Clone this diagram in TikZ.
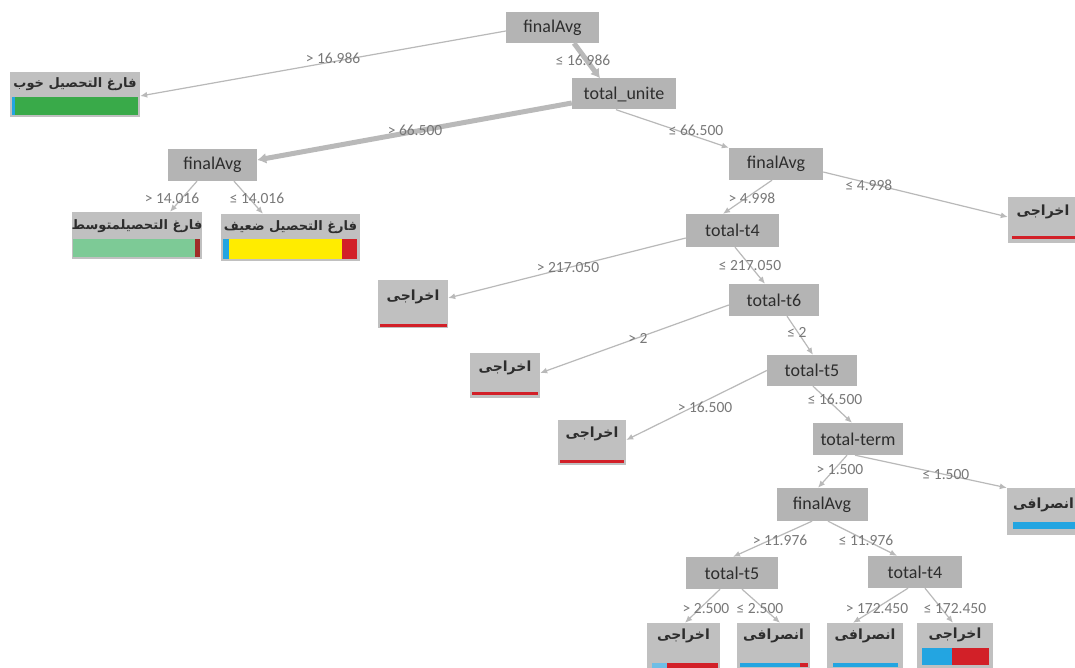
\documentclass[tikz,border=0pt]{standalone}
\usepackage{fontspec}
\setmainfont{Carlito}
\newfontfamily\arabicfont[Script=Arabic]{DejaVu Sans}
\TeXXeTstate=1
\usetikzlibrary{arrows.meta}
\definecolor{nodegray}{RGB}{180,180,180}
\definecolor{leafgray}{RGB}{192,192,192}
\definecolor{edgegray}{RGB}{185,185,185}
\definecolor{labgray}{RGB}{120,120,120}
\definecolor{txt}{RGB}{45,45,45}
\definecolor{cgreen}{RGB}{57,170,73}
\definecolor{clgreen}{RGB}{125,202,150}
\definecolor{cyellow}{RGB}{255,236,0}
\definecolor{cred}{RGB}{210,32,40}
\definecolor{cblue}{RGB}{35,165,225}
\definecolor{clblue}{RGB}{110,190,230}
\definecolor{cdred}{RGB}{160,45,40}
\tikzset{
  inner/.style={fill=nodegray, text=txt, font=\fontsize{18}{20}\selectfont, inner sep=0pt},
  leafbox/.style={fill=leafgray, inner sep=0pt},
  leaftext/.style={text=txt, font=\arabicfont\bfseries\fontsize{14}{16}\selectfont, inner sep=0pt},
  longtext/.style={text=txt, font=\arabicfont\bfseries\fontsize{13}{15}\selectfont, inner sep=0pt},
  edge/.style={draw=edgegray, line width=1.2pt, -{Latex[length=7pt,width=6pt]}},
  thickedge/.style={draw=edgegray, line width=5pt, -{Latex[length=9pt,width=11pt]}},
  elab/.style={text=labgray, font=\fontsize{15.5}{17}\selectfont, inner sep=0pt}
}
\begin{document}
\begin{tikzpicture}[x=1pt,y=-1pt]
\useasboundingbox (0,0) rectangle (1075,668);
\clip (0,0) rectangle (1075,668);
\fill[white] (0,0) rectangle (1075,668);
% internal nodes
\node[inner, minimum width=93pt, minimum height=31pt] (r) at (552.5,27.5) {finalAvg};
\node[inner, minimum width=104pt, minimum height=31pt] (tu) at (624,94) {total\_unite};
\node[inner, minimum width=89pt, minimum height=32pt] (fl) at (212.5,165) {finalAvg};
\node[inner, minimum width=94pt, minimum height=32pt] (fm) at (776,164) {finalAvg};
\node[inner, minimum width=93pt, minimum height=33pt] (t4) at (732.5,230.5) {total-t4};
\node[inner, minimum width=90pt, minimum height=32pt] (t6) at (774,300) {total-t6};
\node[inner, minimum width=90pt, minimum height=31pt] (t5) at (812,370.5) {total-t5};
\node[inner, minimum width=90pt, minimum height=32pt] (tt) at (858,439) {total-term};
\node[inner, minimum width=91pt, minimum height=33pt] (fb) at (822,504.5) {finalAvg};
\node[inner, minimum width=92pt, minimum height=32pt] (t5b) at (732,573) {total-t5};
\node[inner, minimum width=94pt, minimum height=32pt] (t4b) at (915,572) {total-t4};
% leaves
\node[leafbox, minimum width=130pt, minimum height=45pt] (lk) at (75,94.5) {};
\node[longtext] (lkt) at (75,84) {\beginR فارغ التحصیل خوب\endR};
\node[leafbox, minimum width=130pt, minimum height=47pt] (lm) at (137,235.5) {};
\node[longtext] (lmt) at (137,226) {\beginR فارغ التحصیلمتوسط\endR};
\node[leafbox, minimum width=139pt, minimum height=47pt] (lz) at (290.5,237.5) {};
\node[longtext] (lzt) at (290.5,227) {\beginR فارغ التحصیل ضعیف\endR};
\node[leafbox, minimum width=70pt, minimum height=46pt] (lr1) at (1043,220) {};
\node[leaftext] (lr1t) at (1043,212) {\beginR اخراجی\endR};
\node[leafbox, minimum width=70pt, minimum height=48pt] (la) at (413,304) {};
\node[leaftext] (lat) at (413,297) {\beginR اخراجی\endR};
\node[leafbox, minimum width=70pt, minimum height=45pt] (lb) at (505,375.5) {};
\node[leaftext] (lbt) at (505,368) {\beginR اخراجی\endR};
\node[leafbox, minimum width=68pt, minimum height=45pt] (lc) at (592,442.5) {};
\node[leaftext] (lct) at (592,434) {\beginR اخراجی\endR};
\node[leafbox, minimum width=73pt, minimum height=47pt] (lr2) at (1043.5,511.5) {};
\node[leaftext] (lr2t) at (1043.5,505) {\beginR انصرافی\endR};
\node[leafbox, minimum width=73pt, minimum height=47pt] (b1) at (683.5,646.5) {};
\node[leaftext] (b1t) at (683.5,636) {\beginR اخراجی\endR};
\node[leafbox, minimum width=73pt, minimum height=47pt] (b2) at (773.5,646.5) {};
\node[leaftext] (b2t) at (773.5,636) {\beginR انصرافی\endR};
\node[leafbox, minimum width=76pt, minimum height=47pt] (b3) at (865,646.5) {};
\node[leaftext] (b3t) at (865,636) {\beginR انصرافی\endR};
\node[leafbox, minimum width=76pt, minimum height=47pt] (b4) at (955,646.5) {};
\node[leaftext] (b4t) at (955,635) {\beginR اخراجی\endR};
% bars
\fill[cblue] (12,97) rectangle (15,115);
\fill[cgreen] (15,97) rectangle (138,115);
\fill[clgreen] (73,239) rectangle (195,257);
\fill[cdred] (195,239) rectangle (200,257);
\fill[cblue] (223,239) rectangle (229,259);
\fill[cyellow] (229,239) rectangle (342,259);
\fill[cred] (342,239) rectangle (357,259);
\fill[cred] (1012,236.5) rectangle (1078,239);
\fill[cred] (380,323.5) rectangle (447,326.5);
\fill[cred] (472,391.5) rectangle (538,394.5);
\fill[cred] (560,459.5) rectangle (624,462.5);
\fill[cblue] (1013,522) rectangle (1078,529);
\fill[clblue] (652,663) rectangle (667,668);
\fill[cred] (667,663) rectangle (718,668);
\fill[cblue] (740,663) rectangle (800,667);
\fill[cred] (800,663) rectangle (808,667);
\fill[cblue] (833,663) rectangle (898,667);
\fill[cblue] (922,648) rectangle (952,665);
\fill[cred] (952,648) rectangle (989,665);
% edges
\draw[edge] ([yshift=-3.5pt]r.west) -- ([yshift=-1.5pt]lk.east);
\draw[thickedge] ([xshift=21.5pt]r.south) -- ([xshift=-24pt]tu.north);
\draw[thickedge] ([yshift=-9pt]tu.west) -- ([yshift=5pt]fl.east);
\draw[edge] ([xshift=-8pt]tu.south) -- (fm.north west);
\draw[edge] ([xshift=-15.5pt]fl.south) -- ([xshift=33pt]lm.north);
\draw[edge] ([xshift=21.5pt]fl.south) -- ([xshift=-27.5pt]lz.north);
\draw[edge] ([yshift=-8pt]fm.east) -- ([yshift=3pt]lr1.west);
\draw[edge] ([xshift=-4pt]fm.south) -- ([xshift=-9.5pt]t4.north);
\draw[edge] ([yshift=-7.5pt]t4.west) -- ([yshift=6pt]la.east);
\draw[edge] ([xshift=2.5pt]t4.south) -- ([xshift=-9pt]t6.north);
\draw[edge] ([yshift=-5pt]t6.west) -- ([yshift=2.5pt]lb.east);
\draw[edge] ([xshift=13pt]t6.south) -- ([xshift=1pt]t5.north);
\draw[edge] (t5.west) -- ([yshift=2.5pt]lc.east);
\draw[edge] ([xshift=1pt]t5.south) -- ([xshift=-6pt]tt.north);
\draw[edge] ([xshift=-11pt]tt.south) -- ([xshift=-4pt]fb.north);
\draw[edge] ([xshift=-3pt]tt.south) -- (lr2.north west);
\draw[edge] ([xshift=-10pt]fb.south) -- ([xshift=1pt]t5b.north);
\draw[edge] ([xshift=6pt]fb.south) -- ([xshift=-18pt]t4b.north);
\draw[edge] ([xshift=-12pt]t5b.south) -- ([xshift=1.5pt]b1.north);
\draw[edge] ([xshift=10pt]t5b.south) -- ([xshift=6.5pt]b2.north);
\draw[edge] ([xshift=-7pt]t4b.south) -- ([xshift=-12pt]b3.north);
\draw[edge] ([xshift=10pt]t4b.south) -- ([xshift=-2pt]b4.north);
% edge labels
\node[elab] (e1) at (333,58) {> 16.986};
\node[elab] (e2) at (583,60) {≤ 16.986};
\node[elab] (e3) at (415,130) {> 66.500};
\node[elab] (e4) at (696,130) {≤ 66.500};
\node[elab] (e5) at (172,198) {> 14.016};
\node[elab] (e6) at (257,198) {≤ 14.016};
\node[elab] (e7) at (752,198) {> 4.998};
\node[elab] (e8) at (869,185) {≤ 4.998};
\node[elab] (e9) at (568,268) {> 217.050};
\node[elab] (e10) at (750,266) {≤ 217.050};
\node[elab] (e11) at (638,338) {> 2};
\node[elab] (e12) at (797,332) {≤ 2};
\node[elab] (e13) at (705,407) {> 16.500};
\node[elab] (e14) at (835,399) {≤ 16.500};
\node[elab] (e15) at (840,470) {> 1.500};
\node[elab] (e16) at (946,475) {≤ 1.500};
\node[elab] (e17) at (780,540) {> 11.976};
\node[elab] (e18) at (866,540) {≤ 11.976};
\node[elab] (e19) at (706,609) {> 2.500};
\node[elab] (e20) at (760,609) {≤ 2.500};
\node[elab] (e21) at (877,609) {> 172.450};
\node[elab] (e22) at (955,609) {≤ 172.450};
\end{tikzpicture}
\end{document}
